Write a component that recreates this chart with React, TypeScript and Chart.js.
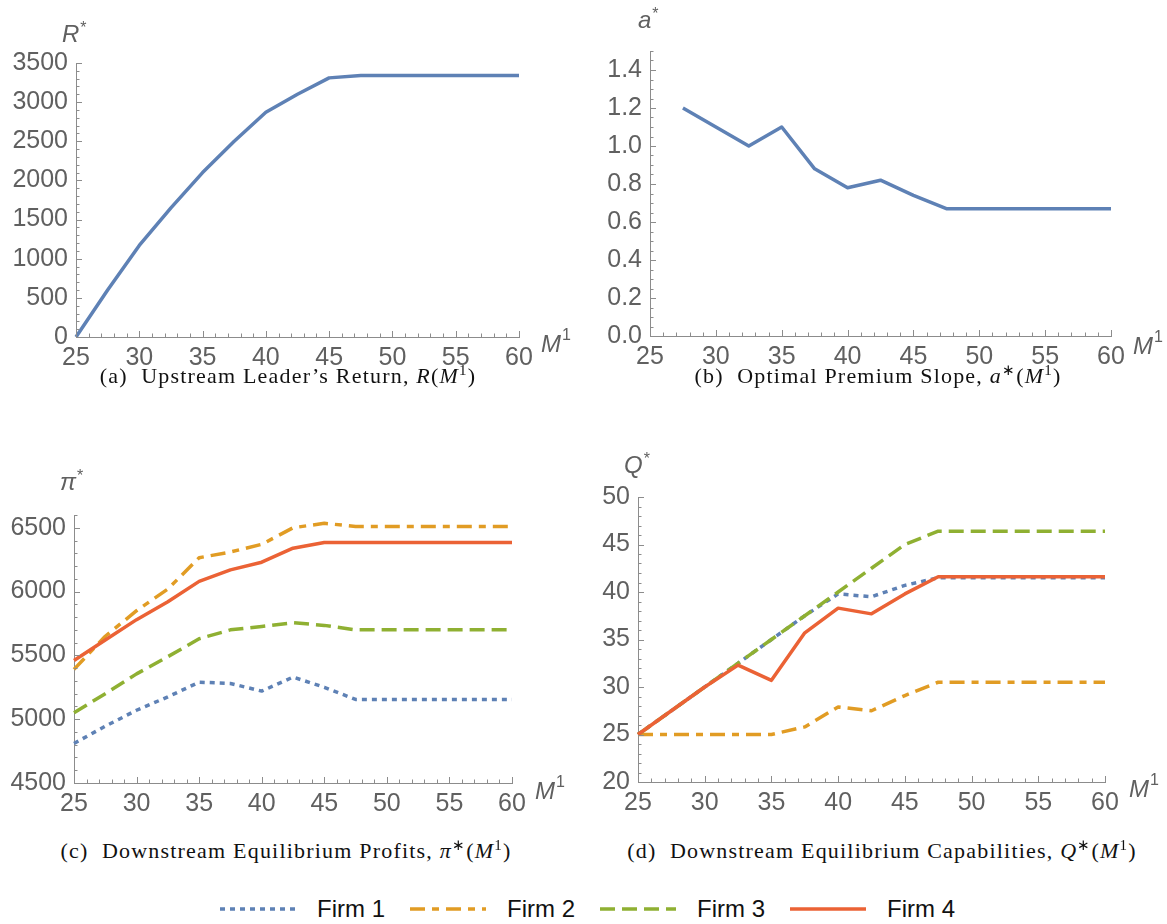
import React, { useEffect, useRef } from 'react';
import { Chart, registerables } from 'chart.js';

Chart.register(...registerables);

// ---------------- data ----------------
const M1 = [25, 27.5, 30, 32.5, 35, 37.5, 40, 42.5, 45, 47.5, 50, 52.5, 55, 57.5, 60];
const xTicks = [25, 30, 35, 40, 45, 50, 55, 60];

const leaderReturn = [0, 600, 1170, 1650, 2100, 2500, 2870, 3100, 3310, 3340, 3340, 3340, 3340, 3340, 3340];
const premiumSlope = [null, 1.2, 1.1, 1.0, 1.1, 0.88, 0.78, 0.82, 0.74, 0.67, 0.67, 0.67, 0.67, 0.67, 0.67];

const profitFirm1 = [4810, 4945, 5070, 5175, 5290, 5280, 5220, 5330, 5250, 5155, 5155, 5155, 5155, 5155, 5155];
const profitFirm2 = [5390, 5650, 5850, 6020, 6265, 6310, 6370, 6500, 6535, 6510, 6510, 6510, 6510, 6510, 6510];
const profitFirm3 = [5050, 5200, 5355, 5490, 5630, 5700, 5727, 5756, 5735, 5700, 5700, 5700, 5700, 5700, 5700];
const profitFirm4 = [5460, 5620, 5780, 5920, 6080, 6170, 6230, 6340, 6385, 6385, 6385, 6385, 6385, 6385, 6385];

const capFirm1 = [25, 27.5, 30, 32.5, 35, 37.5, 39.8, 39.5, 40.7, 41.5, 41.5, 41.5, 41.5, 41.5, 41.5];
const capFirm2 = [25, 25, 25, 25, 25, 25.8, 27.9, 27.5, 29.1, 30.5, 30.5, 30.5, 30.5, 30.5, 30.5];
const capFirm3 = [25, 27.5, 30, 32.5, 35, 37.5, 40, 42.5, 45, 46.4, 46.4, 46.4, 46.4, 46.4, 46.4];
const capFirm4 = [25, 27.5, 30, 32.3, 30.7, 35.7, 38.3, 37.7, 39.8, 41.6, 41.6, 41.6, 41.6, 41.6, 41.6];

const ticksR = [0, 500, 1000, 1500, 2000, 2500, 3000, 3500];
const ticksA = [0, 0.2, 0.4, 0.6, 0.8, 1.0, 1.2, 1.4];
const ticksPi = [4500, 5000, 5500, 6000, 6500];
const ticksQ = [20, 25, 30, 35, 40, 45, 50];

const firmNames = ['Firm 1', 'Firm 2', 'Firm 3', 'Firm 4'];

// ---------------- styles ----------------
const firmColors = ['#5E81B5', '#E19C24', '#8FB032', '#EB6235'];
const firmDashes = [[5, 5], [15, 7, 7, 7], [15, 7], []];
const AXIS = '#8c8c8c';
const TICKTXT = '#606060';
const SANS = '"Liberation Sans", Arial, sans-serif';
const SERIF = '"Liberation Serif", "Times New Roman", serif';

function lineDs(label: string, values: (number | null)[], color: string, dash: number[], order: number) {
  return {
    label,
    data: M1.map((x, i) => ({ x, y: values[i] })),
    borderColor: color,
    backgroundColor: color,
    borderDash: dash,
    borderWidth: 3.5,
    borderCapStyle: 'butt',
    borderJoinStyle: 'round',
    pointRadius: 0,
    tension: 0,
    fill: false,
    clip: false,
    order,
  };
}

const inTicksPlugin = {
  id: 'inTicks',
  afterDraw(chart: any, _args: any, opts: any) {
    const { ctx, chartArea, scales } = chart;
    const xs = scales.x;
    const ys = scales.y;
    ctx.save();
    ctx.strokeStyle = AXIS;
    ctx.lineWidth = 1;
    ctx.beginPath();
    const nx = Math.round((xs.max - xs.min) / opts.xMinor);
    for (let i = 0; i <= nx; i++) {
      const v = xs.min + i * opts.xMinor;
      const major = Math.abs(v / opts.xMajor - Math.round(v / opts.xMajor)) < 1e-6;
      const px = Math.round(xs.getPixelForValue(v)) + 0.5;
      ctx.moveTo(px, chartArea.bottom);
      ctx.lineTo(px, chartArea.bottom - (major ? 6 : 3.5));
    }
    const ny = Math.round((ys.max - ys.min) / opts.yMinor);
    for (let i = 0; i <= ny; i++) {
      const v = ys.min + i * opts.yMinor;
      const major = Math.abs(v / opts.yMajor - Math.round(v / opts.yMajor)) < 1e-6;
      const py = Math.round(ys.getPixelForValue(v)) + 0.5;
      ctx.moveTo(chartArea.left, py);
      ctx.lineTo(chartArea.left + (major ? 6 : 3.5), py);
    }
    ctx.stroke();
    ctx.restore();
  },
};

type PanelProps = {
  left: number; top: number; width: number; height: number;
  yWidth: number; xHeight: number; padTop: number; padRight: number;
  datasets: any[]; yMin: number; yMax: number; yTicks: number[];
  yFmt: (v: number) => string; yMinor: number; yMajor: number;
};

function Panel(p: PanelProps) {
  const ref = useRef<HTMLCanvasElement | null>(null);
  useEffect(() => {
    const tickFont = { family: SANS, size: 25 };
    const chart = new Chart(ref.current as HTMLCanvasElement, {
      type: 'line',
      data: { datasets: p.datasets },
      options: {
        responsive: false,
        animation: false,
        devicePixelRatio: 1,
        layout: { padding: { top: p.padTop, right: p.padRight, left: 0, bottom: 0 } },
        plugins: {
          legend: { display: false },
          tooltip: { enabled: false },
          inTicks: { xMinor: 1, xMajor: 5, yMinor: p.yMinor, yMajor: p.yMajor },
        } as any,
        scales: {
          x: {
            type: 'linear',
            min: 25,
            max: 60,
            afterBuildTicks: (s: any) => { s.ticks = xTicks.map((v) => ({ value: v })); },
            afterFit: (s: any) => { s.height = p.xHeight; },
            grid: { display: false, drawTicks: false },
            border: { display: true, color: AXIS, width: 1 },
            ticks: { font: tickFont, color: TICKTXT, padding: 6, maxRotation: 0, autoSkip: false, callback: (v: any) => String(v) },
          },
          y: {
            type: 'linear',
            min: p.yMin,
            max: p.yMax,
            afterBuildTicks: (s: any) => { s.ticks = p.yTicks.map((v) => ({ value: v })); },
            afterFit: (s: any) => { s.width = p.yWidth; },
            grid: { display: false, drawTicks: false },
            border: { display: true, color: AXIS, width: 1 },
            ticks: { font: tickFont, color: TICKTXT, padding: 8, autoSkip: false, callback: (v: any) => p.yFmt(Number(v)) },
          },
        },
      } as any,
      plugins: [inTicksPlugin],
    });
    return () => chart.destroy();
  }, []);
  return (
    <canvas
      ref={ref}
      width={p.width}
      height={p.height}
      style={{ position: 'absolute', left: p.left, top: p.top, width: p.width, height: p.height }}
    />
  );
}

const axisLabel: React.CSSProperties = {
  position: 'absolute',
  fontFamily: SANS,
  fontStyle: 'italic',
  fontSize: 24,
  lineHeight: '24px',
  color: TICKTXT,
  whiteSpace: 'nowrap',
};

function AxisLabel({ left, top, main, sup }: { left: number; top: number; main: string; sup: string }) {
  return (
    <div style={{ ...axisLabel, left, top }}>
      {main}
      <span style={{ fontStyle: 'normal', fontSize: sup === '1' ? 16 : 16, position: 'relative', top: sup === '1' ? -12 : -9, marginLeft: 1 }}>{sup}</span>
    </div>
  );
}

function Caption({ cx, top, children }: { cx: number; top: number; children: React.ReactNode }) {
  return (
    <div
      style={{
        position: 'absolute',
        left: cx - 300,
        top,
        width: 600,
        textAlign: 'center',
        fontFamily: SERIF,
        fontSize: 22,
        letterSpacing: 1.2,
        lineHeight: '24px',
        color: '#111',
        whiteSpace: 'nowrap',
      }}
    >
      {children}
    </div>
  );
}

const sup: React.CSSProperties = { fontSize: 15, position: 'relative', top: -8 };

export default function App() {
  const profitSets = [
    lineDs(firmNames[0], profitFirm1, firmColors[0], firmDashes[0], 3),
    lineDs(firmNames[1], profitFirm2, firmColors[1], firmDashes[1], 2),
    lineDs(firmNames[2], profitFirm3, firmColors[2], firmDashes[2], 1),
    lineDs(firmNames[3], profitFirm4, firmColors[3], firmDashes[3], 0),
  ];
  const capSets = [
    lineDs(firmNames[0], capFirm1, firmColors[0], firmDashes[0], 3),
    lineDs(firmNames[1], capFirm2, firmColors[1], firmDashes[1], 2),
    lineDs(firmNames[2], capFirm3, firmColors[2], firmDashes[2], 1),
    lineDs(firmNames[3], capFirm4, firmColors[3], firmDashes[3], 0),
  ];
  const fmtInt = (v: number) => String(Math.round(v));
  const fmt1 = (v: number) => v.toFixed(1);

  return (
    <div style={{ position: 'absolute', left: 0, top: 0, width: 1167, height: 924, background: '#fff', overflow: 'hidden' }}>
      <Panel left={0} top={0} width={580} height={372} yWidth={76} xHeight={35} padTop={63} padRight={61}
        datasets={[lineDs('R', leaderReturn, firmColors[0], [], 0)]}
        yMin={0} yMax={3500} yTicks={ticksR} yFmt={fmtInt} yMinor={100} yMajor={500} />
      <Panel left={580} top={0} width={587} height={372} yWidth={70} xHeight={36} padTop={51} padRight={56}
        datasets={[lineDs('a', premiumSlope, firmColors[0], [], 0)]}
        yMin={0} yMax={1.5} yTicks={ticksA} yFmt={fmt1} yMinor={0.05} yMajor={0.2} />
      <Panel left={0} top={440} width={580} height={380} yWidth={74} xHeight={37} padTop={75} padRight={68}
        datasets={profitSets}
        yMin={4500} yMax={6600} yTicks={ticksPi} yFmt={fmtInt} yMinor={100} yMajor={500} />
      <Panel left={580} top={440} width={587} height={380} yWidth={58} xHeight={38} padTop={57} padRight={62}
        datasets={capSets}
        yMin={20} yMax={50} yTicks={ticksQ} yFmt={fmtInt} yMinor={1} yMajor={5} />

      <AxisLabel left={62} top={22} main="R" sup="*" />
      <AxisLabel left={638} top={8} main="a" sup="*" />
      <AxisLabel left={60} top={470} main="π" sup="*" />
      <AxisLabel left={624} top={453} main="Q" sup="*" />
      <AxisLabel left={541} top={332} main="M" sup="1" />
      <AxisLabel left={1133} top={334} main="M" sup="1" />
      <AxisLabel left={535} top={779} main="M" sup="1" />
      <AxisLabel left={1129} top={777} main="M" sup="1" />

      <Caption cx={288} top={364}>
        (a)&nbsp; Upstream Leader’s Return, <i>R</i>(<i>M</i><span style={sup}>1</span>)
      </Caption>
      <Caption cx={878} top={364}>
        (b)&nbsp; Optimal Premium Slope, <i>a</i><span style={sup}>∗</span>(<i>M</i><span style={sup}>1</span>)
      </Caption>
      <Caption cx={286} top={839}>
        (c)&nbsp; Downstream Equilibrium Profits, <i>π</i><span style={sup}>∗</span>(<i>M</i><span style={sup}>1</span>)
      </Caption>
      <Caption cx={882} top={839}>
        (d)&nbsp; Downstream Equilibrium Capabilities, <i>Q</i><span style={sup}>∗</span>(<i>M</i><span style={sup}>1</span>)
      </Caption>

      <div style={{ position: 'absolute', left: 220, top: 896, height: 26, display: 'flex', alignItems: 'center' }}>
        {firmNames.map((name, i) => (
          <div key={name} style={{ display: 'flex', alignItems: 'center', marginRight: 25 }}>
            <svg width={76} height={10} style={{ display: 'block', marginRight: 21 }}>
              <line x1={0} y1={5} x2={76} y2={5} stroke={firmColors[i]} strokeWidth={3.5}
                strokeDasharray={firmDashes[i].length ? firmDashes[i].join(' ') : undefined} />
            </svg>
            <span style={{ fontFamily: SANS, fontSize: 24, color: '#111', lineHeight: '26px' }}>{name}</span>
          </div>
        ))}
      </div>
    </div>
  );
}
